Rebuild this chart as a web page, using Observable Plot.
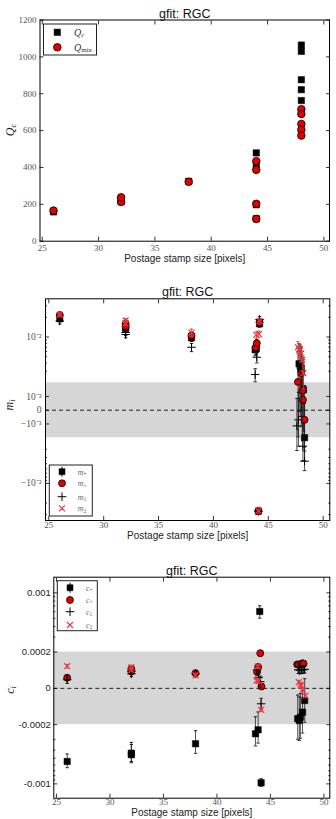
<!DOCTYPE html>
<html><head><meta charset="utf-8">
<script src="https://cdn.jsdelivr.net/npm/d3@7"></script>
<script src="https://cdn.jsdelivr.net/npm/@observablehq/plot@0.6"></script>
<style>html,body{margin:0;padding:0;background:#fff}#c svg{display:block}</style>
</head><body><div id="c"></div>
<script>
// ---------- shared ----------
const title = "gfit: RGC";
const xLabel = "Postage stamp size [pixels]";
const xTicks = [25, 30, 35, 40, 45, 50];

// ---------- panel 1: Q ----------
const qX   = [26, 32, 32, 38, 44, 44, 44, 44, 48, 48, 48, 48, 48];
const qC   = [159, 215, 228, 325, 479, 410, 198, 122, 1064, 1030, 876, 822, 763];
const qMix = [166, 213, 238, 322, 434, 387, 203, 121, 716, 690, 636, 605, 573];
const qTicks = [0, 200, 400, 600, 800, 1000, 1200];
const qLim = [0, 1200];
const xLim1 = [24.8, 50.5];

// ---------- panel 2: m ----------
const mPlusX = [26, 32, 32, 38, 43.8, 43.9, 44.2, 44.1, 47.8, 47.9, 48.0, 48.2, 48.3];
const mPlus  = [0.0190, 0.01413, 0.01349, 0.00973, 0.00638, 0.0066, 0.01592, -0.0266, 0.0039, 0.00354, 0.00333, 0.001486, -0.0020];
const mPlusE = [0.0015, 0.0012, 0.0012, 0.0012, 0.0012, 0.0012, 0.0018, 0.003, 0.004, 0.004, 0.0038, 0.003, 0.0025];
const mCrossX = [26, 32, 32, 38, 43.85, 43.95, 44.2, 44.1, 47.7, 48.0, 48.1, 48.15, 48.3];
const mCross  = [0.0217, 0.01592, 0.01449, 0.01055, 0.00698, 0.00804, 0.01688, -0.0266, 0.00206, 0.0028, 0.00143, 0.000757, -0.0007];
const mCrossE = [0.0015, 0.0012, 0.0012, 0.0012, 0.0012, 0.0012, 0.0018, 0.003, 0.004, 0.004, 0.0035, 0.003, 0.0025];
const m1X = [26, 32, 32, 38, 43.8, 43.95, 44.2, 44.1, 47.6, 47.75, 48.0, 48.15, 48.3];
const m1  = [0.0176, 0.01093, 0.01173, 0.00698, 0.00267, 0.00491, 0.01853, -0.0266, -0.00114, -0.0007, 0.003, -0.0027, -0.00458];
const m1E = [0.0018, 0.0012, 0.0012, 0.001, 0.0006, 0.0009, 0.002, 0.003, 0.002, 0.002, 0.003, 0.0018, 0.0018];
const m2X = [26, 32, 32, 38, 43.9, 44.15, 44.2, 44.1, 47.7, 47.8, 48.0, 48.1, 48.2];
const m2  = [0.0219, 0.01791, 0.01626, 0.0117, 0.01081, 0.0111, 0.0175, -0.0262, 0.00698, 0.0064, 0.00566, 0.0045, 0.0028];
const m2E = [0.0015, 0.0012, 0.0012, 0.0015, 0.0012, 0.0012, 0.0018, 0.003, 0.0015, 0.0015, 0.0015, 0.0015, 0.0012];
const mTicks = [-1e-2, -1e-3, 0, 1e-3, 1e-2];
const mTickLabels = ["\u221210\u207B\u00B2", "\u221210\u207B\u00B3", "0", "10\u207B\u00B3", "10\u207B\u00B2"];
const mMinor = [-3e-2, -2e-2, -9e-3, -8e-3, -7e-3, -6e-3, -5e-3, -4e-3, -3e-3, 3e-3, 4e-3, 5e-3, 6e-3, 7e-3, 8e-3, 9e-3, 2e-2, 3e-2];
const mLim = [-0.0369, 0.0384];
const mBand = [-0.002, 0.002];
const xLim2 = [24.7, 50.6];

// ---------- panel 3: c ----------
const cPlusX = [26, 32, 32, 38, 43.6, 43.85, 44.0, 44.13, 47.55, 47.7, 47.8, 48.0, 48.2];
const cPlus  = [-5.44e-4, -4.34e-4, -4.53e-4, -3.36e-4, -2.56e-4, -2.3e-4, 6.03e-4, -9.7e-4, -1.67e-4, -1.77e-4, -1.59e-4, -1.31e-4, -6.7e-5];
const cPlusE = [1e-4, 1.1e-4, 1.1e-4, 1e-4, 1e-4, 1e-4, 1e-4, 1e-4, 1.3e-4, 1.3e-4, 1.3e-4, 1.2e-4, 1.2e-4];
const cCrossX = [26, 32, 32, 38, 43.75, 43.85, 44.05, 44.16, 47.5, 47.65, 47.9, 48.0, 48.1];
const cCross  = [5.84e-5, 1.08e-4, 9.3e-5, 8.38e-5, 9.1e-5, 1.17e-4, 1.94e-4, 1.05e-5, 1.32e-4, 1.30e-4, 1.35e-4, 1.38e-4, 1.36e-4];
const cCrossE = [1.5e-5, 1.5e-5, 1.5e-5, 1.5e-5, 1.5e-5, 1.5e-5, 1.5e-5, 1.5e-5, 1.5e-5, 1.5e-5, 1.5e-5, 1.5e-5, 1.5e-5];
const c1X = [26, 32, 32, 38, 43.75, 43.9, 44.05, 44.13, 47.6, 47.75, 47.9, 48.05, 48.2];
const c1  = [4.74e-5, 8.0e-5, 9.5e-5, 8.0e-5, 1.02e-4, 6.1e-5, 3.7e-5, -8.5e-5, 1.02e-4, 1.0e-4, 1.03e-4, 1.02e-4, 1.05e-4];
const c1E = [2e-5, 1.5e-5, 1.5e-5, 1.5e-5, 3e-5, 3e-5, 3e-5, 3e-5, 2e-5, 2e-5, 2e-5, 2e-5, 2e-5];
const c2X = [26, 32, 32, 38, 43.7, 43.8, 43.9, 44.13, 47.65, 47.8, 47.9, 48.0, 48.27];
const c2  = [1.22e-4, 1.17e-4, 1.02e-4, 7.1e-5, 4.2e-5, 1.2e-4, 3.97e-5, -1.18e-4, 3.4e-5, 2.2e-5, 1.5e-5, -7.7e-6, -4.1e-5];
const c2E = [1e-5, 1e-5, 1e-5, 1e-5, 1e-5, 1e-5, 1e-5, 1e-5, 1e-5, 1e-5, 1e-5, 1e-5, 1e-5];
const cTicks = [-0.001, -0.0002, 0, 0.0002, 0.001];
const cTickLabels = ["-0.001", "-0.0002", "0", "0.0002", "0.001"];
const cMinor = [-9e-4, -8e-4, -7e-4, -6e-4, -5e-4, -4e-4, -3e-4, 3e-4, 4e-4, 5e-4, 6e-4, 7e-4, 8e-4, 9e-4];
const cLim = [-1.476e-3, 1.53e-3];
const cBand = [-2e-4, 2e-4];
const xLim3 = [24.75, 50.55];

// ---------- helpers ----------
const RED = "#e00000", XRED = "#e8383d";
const SERIF = "Liberation Serif", SANS = "Liberation Sans";
function symlog(L, a) {
  return v => { const s = Math.sign(v), u = Math.abs(v); return s * (u <= L ? u / L * a : a + Math.log10(u / L)); };
}
const T2 = symlog(2e-3, 0.42);
const T3 = symlog(2e-4, 0.4286);
const ID = v => v;
const capSym = {draw(ctx, size) { const r = Math.sqrt(size / Math.PI); ctx.moveTo(-r, 0); ctx.lineTo(r, 0); }};

function series(xs, vs, es, T, o) {
  const d = xs.map((x, i) => ({x, v: vs[i], e: es ? es[i] : 0}));
  const marks = [];
  if (es) {
    marks.push(Plot.ruleX(d, {x: "x", y1: p => T(p.v - p.e), y2: p => T(p.v + p.e), stroke: o.ebar, strokeWidth: 0.9, strokeOpacity: 0.8}));
    marks.push(Plot.dot(d, {x: "x", y: p => T(p.v - p.e), symbol: capSym, r: 1.7, fill: "none", stroke: o.ebar, strokeWidth: 0.9}));
    marks.push(Plot.dot(d, {x: "x", y: p => T(p.v + p.e), symbol: capSym, r: 1.7, fill: "none", stroke: o.ebar, strokeWidth: 0.9}));
  }
  marks.push(Plot.dot(d, {x: "x", y: p => T(p.v), symbol: o.symbol, r: o.r, fill: o.fill, stroke: o.stroke, strokeWidth: o.sw}));
  return marks;
}

function axes(o) {
  const yt = o.yTicks.map(o.T);
  const fmt = new Map(yt.map((t, i) => [t, o.yLabels[i]]));
  const tick = {stroke: "#000", strokeWidth: 0.8, fill: "none", label: null};
  const txt = {tickSize: 0, stroke: "none", label: null};
  const m = [
    Plot.axisX(xTicks, {anchor: "bottom", tickSize: -4, ...tick}),
    Plot.axisX(xTicks, {anchor: "top", tickSize: -4, ...tick}),
    Plot.axisX(xTicks, {anchor: "bottom", tickPadding: o.xPad, fontFamily: SERIF, fontSize: 9, fill: "#555", tickFormat: d => String(d), ...txt}),
    Plot.axisY(yt, {anchor: "left", tickSize: -4, ...tick}),
    Plot.axisY(yt, {anchor: "right", tickSize: -4, ...tick}),
    Plot.axisY(yt, {anchor: "left", tickPadding: o.yPad, fontFamily: o.yFont, fontSize: o.yFontSize, fill: o.yFill, tickFormat: t => fmt.get(t), ...txt})
  ];
  if (o.minor) {
    const mt = o.minor.map(o.T);
    m.push(Plot.axisY(mt, {anchor: "left", tickSize: -2, ...tick}));
    m.push(Plot.axisY(mt, {anchor: "right", tickSize: -2, ...tick}));
  }
  return m;
}

function labels(o) {
  return [
    Plot.text([title], {text: d => d, frameAnchor: "top", dy: o.tdy, lineAnchor: "middle", fontFamily: SANS, fontSize: 12.5, fill: "#111"}),
    Plot.text([xLabel], {text: d => d, frameAnchor: "bottom", dy: o.xdy, lineAnchor: "middle", fontFamily: SANS, fontSize: 10, fill: "#222"})
  ];
}

function mathText(g, x, y, parts, o) {
  const t = g.append("text").attr("font-family", SERIF).attr("font-size", o.size).attr("fill", o.fill)
    .attr("text-anchor", o.anchor || "start");
  if (o.rotate) t.attr("transform", `translate(${x},${y}) rotate(-90)`); else t.attr("x", x).attr("y", y);
  t.attr("dominant-baseline", "central");
  parts.forEach(p => {
    const s = t.append("tspan").text(p.t).attr("font-style", p.italic ? "italic" : "normal");
    if (p.sub) s.attr("font-size", o.size * 0.7).attr("dy", o.size * 0.28);
  });
  return t;
}

function legend(svg, box, rows, mx, tx, size, fill) {
  const g = d3.select(svg).append("g");
  g.append("rect").attr("x", box[0]).attr("y", box[1]).attr("width", box[2]).attr("height", box[3])
    .attr("fill", "white").attr("stroke", "#222").attr("stroke-width", 1);
  rows.forEach(r => {
    if (r.bar) g.append("line").attr("x1", mx).attr("x2", mx).attr("y1", r.y - 5).attr("y2", r.y + 5).attr("stroke", "#000");
    g.append("path").attr("transform", `translate(${mx},${r.y})`).attr("d", d3.symbol(r.sym, r.size)())
      .attr("fill", r.fill).attr("stroke", r.stroke).attr("stroke-width", r.sw);
    mathText(g, tx, r.y, r.text, {size, fill});
  });
}

const root = document.getElementById("c");
const sqO = {symbol: "square", r: 3.6, fill: "#000", stroke: "#000", sw: 0.5, ebar: "#111"};
const ciO = {symbol: "circle", r: 3.5, fill: RED, stroke: "#000", sw: 0.8, ebar: "#111"};
const plO = {symbol: "plus", r: 2.85, fill: "none", stroke: "#000", sw: 1, ebar: "#111"};
const txO = {symbol: "times", r: 2.8, fill: "none", stroke: XRED, sw: 1.1, ebar: XRED};

// ---------- panel 1 ----------
const p1 = Plot.plot({
  width: 336, height: 270,
  marginLeft: 39.5, marginRight: 7, marginTop: 19.5, marginBottom: 29.3,
  style: {background: "white", fontFamily: SANS},
  x: {domain: xLim1},
  y: {domain: qLim},
  marks: [
    ...series(qX, qC, null, ID, sqO),
    ...series(qX, qMix, null, ID, {...ciO, r: 3.8}),
    Plot.frame({stroke: "#000", strokeWidth: 1}),
    ...axes({yTicks: qTicks, yLabels: qTicks.map(String), T: ID, xPad: 3.5, yPad: 3.5, yFont: SERIF, yFontSize: 9, yFill: "#555"}),
    ...labels({tdy: -6, xdy: 17.3})
  ]
});
root.appendChild(p1);
{
  const g = d3.select(p1).append("g");
  mathText(g, 10, 130, [{t: "Q", italic: true}, {t: "c", italic: true, sub: true}], {size: 12, fill: "#222", anchor: "middle", rotate: true});
  legend(p1, [43.5, 24, 53, 31], [
    {y: 32.3, sym: d3.symbolSquare, size: 41, fill: "#000", stroke: "#000", sw: 0.5, text: [{t: "Q", italic: true}, {t: "c", italic: true, sub: true}]},
    {y: 47.3, sym: d3.symbolCircle, size: 45, fill: RED, stroke: "#000", sw: 0.8, text: [{t: "Q", italic: true}, {t: "mix", sub: true}]}
  ], 57.3, 74, 10, "#333");
}

// ---------- panel 2 ----------
const p2 = Plot.plot({
  width: 336, height: 274,
  marginLeft: 45, marginRight: 6.7, marginTop: 28.3, marginBottom: 24,
  style: {background: "white", fontFamily: SANS},
  x: {domain: xLim2},
  y: {domain: mLim.map(T2)},
  marks: [
    Plot.rect([mBand], {x1: () => xLim2[0], x2: () => xLim2[1], y1: b => T2(b[0]), y2: b => T2(b[1]), fill: "#d6d6d6"}),
    Plot.ruleY([0], {y: v => T2(v), stroke: "#222", strokeDasharray: "4,3", strokeWidth: 1}),
    ...series(mPlusX, mPlus, mPlusE, T2, sqO),
    ...series(mCrossX, mCross, mCrossE, T2, ciO),
    ...series(m1X, m1, m1E, T2, plO),
    ...series(m2X, m2, m2E, T2, txO),
    Plot.frame({stroke: "#000", strokeWidth: 1}),
    ...axes({yTicks: mTicks, yLabels: mTickLabels, T: T2, minor: mMinor, xPad: 1.5, yPad: 4, yFont: SERIF, yFontSize: 9.5, yFill: "#555"}),
    ...labels({tdy: -6.6, xdy: 15.5})
  ]
});
root.appendChild(p2);
{
  const g = d3.select(p2).append("g");
  mathText(g, 9, 135, [{t: "m", italic: true}, {t: "i", italic: true, sub: true}], {size: 12, fill: "#222", anchor: "middle", rotate: true});
  legend(p2, [49.3, 195, 43, 51], [
    {y: 201.7, bar: true, sym: d3.symbolSquare, size: 36, fill: "#000", stroke: "#000", sw: 0.5, text: [{t: "m", italic: true}, {t: "+", sub: true}]},
    {y: 213.3, sym: d3.symbolCircle, size: 38, fill: RED, stroke: "#000", sw: 0.8, text: [{t: "m", italic: true}, {t: "\u00D7", sub: true}]},
    {y: 226.7, sym: d3.symbolPlus, size: 26, fill: "none", stroke: "#000", sw: 1, text: [{t: "m", italic: true}, {t: "1", sub: true}]},
    {y: 238.3, sym: d3.symbolTimes, size: 25, fill: "none", stroke: XRED, sw: 1.1, text: [{t: "m", italic: true}, {t: "2", sub: true}]}
  ], 62, 77.7, 8, "#666");
}

// ---------- panel 3 ----------
const p3 = Plot.plot({
  width: 336, height: 275,
  marginLeft: 53.3, marginRight: 6.7, marginTop: 32.7, marginBottom: 21.3,
  style: {background: "white", fontFamily: SANS},
  x: {domain: xLim3},
  y: {domain: cLim.map(T3)},
  marks: [
    Plot.rect([cBand], {x1: () => xLim3[0], x2: () => xLim3[1], y1: b => T3(b[0]), y2: b => T3(b[1]), fill: "#d6d6d6"}),
    Plot.ruleY([0], {y: v => T3(v), stroke: "#222", strokeDasharray: "4,3", strokeWidth: 1}),
    ...series(cPlusX, cPlus, cPlusE, T3, sqO),
    ...series(cCrossX, cCross, cCrossE, T3, ciO),
    ...series(c1X, c1, c1E, T3, plO),
    ...series(c2X, c2, c2E, T3, txO),
    Plot.frame({stroke: "#000", strokeWidth: 1}),
    ...axes({yTicks: cTicks, yLabels: cTickLabels, T: T3, minor: cMinor, xPad: 0.5, yPad: 3, yFont: SANS, yFontSize: 9.5, yFill: "#222"}),
    ...labels({tdy: -6, xdy: 14.6})
  ]
});
root.appendChild(p3);
{
  const g = d3.select(p3).append("g");
  mathText(g, 10, 146, [{t: "c", italic: true}, {t: "i", italic: true, sub: true}], {size: 12, fill: "#222", anchor: "middle", rotate: true});
  legend(p3, [57.3, 36.7, 40, 50], [
    {y: 43.7, bar: true, sym: d3.symbolSquare, size: 36, fill: "#000", stroke: "#000", sw: 0.5, text: [{t: "c", italic: true}, {t: "+", sub: true}]},
    {y: 56, sym: d3.symbolCircle, size: 38, fill: RED, stroke: "#000", sw: 0.8, text: [{t: "c", italic: true}, {t: "\u00D7", sub: true}]},
    {y: 67.7, sym: d3.symbolPlus, size: 26, fill: "none", stroke: "#000", sw: 1, text: [{t: "c", italic: true}, {t: "1", sub: true}]},
    {y: 81, sym: d3.symbolTimes, size: 25, fill: "none", stroke: XRED, sw: 1.1, text: [{t: "c", italic: true}, {t: "2", sub: true}]}
  ], 70, 86, 8, "#666");
}
</script></body></html>
